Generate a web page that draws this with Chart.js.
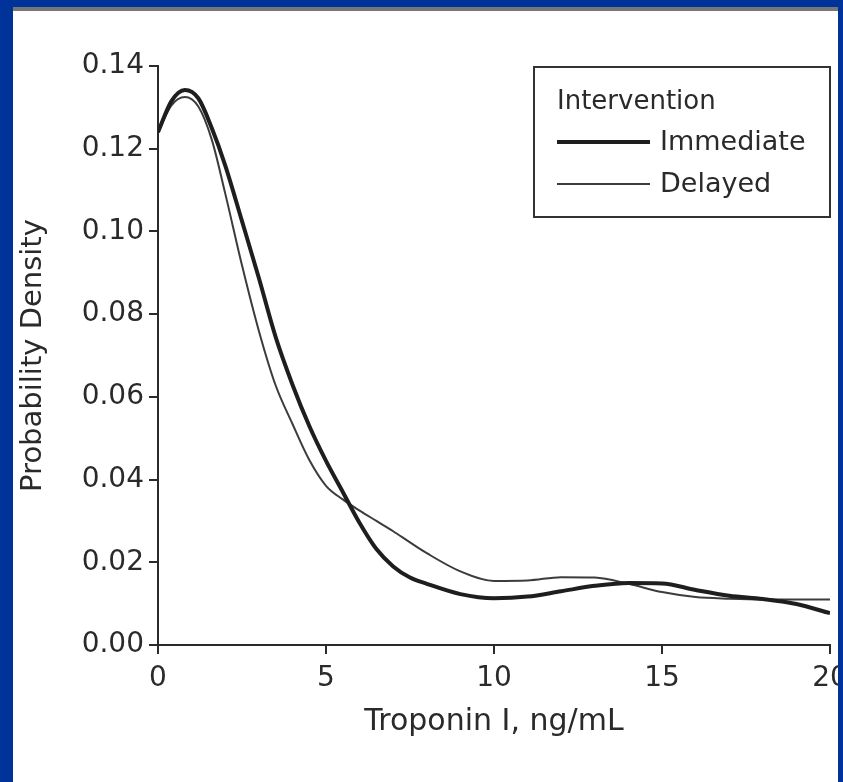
<!DOCTYPE html>
<html>
<head>
<meta charset="utf-8">
<title>Troponin I - Probability Density</title>
<script src="https://cdn.jsdelivr.net/npm/chart.js@4.4.0/dist/chart.umd.min.js"></script>
<style>
    html, body { margin: 0; padding: 0; }
    body { width: 843px; height: 782px; background: #003399; position: relative; overflow: hidden; }
    .panel { position: absolute; left: 13px; top: 7px; width: 825px; height: 775px; background: #fff; border-top: 4px solid #777; box-sizing: border-box; }
    .edge { position: absolute; left: 838px; top: 40px; width: 5px; height: 742px; background: #003399; }
    #chartWrap { position: absolute; left: 0; top: 0; width: 843px; height: 782px; }
</style>
</head>
<body>
<div class="panel"></div>
<div id="chartWrap"><canvas id="densityChart" width="843" height="782"></canvas></div>
<div class="edge"></div>

<script>
// Troponin I grid (ng/mL) and estimated densities
const troponin = [0, 0.4, 0.8, 1.2, 1.6, 2, 2.5, 3, 3.5, 4, 4.5, 5, 5.5, 6, 6.5, 7, 7.5, 8, 9, 10, 11, 12, 13, 14, 15, 16, 17, 18, 19, 20];
const immediate = [0.124, 0.1315, 0.1342, 0.1322, 0.1250, 0.1160, 0.1025, 0.0888, 0.0745, 0.0630, 0.0530, 0.0445, 0.0370, 0.0295, 0.0232, 0.0190, 0.0163, 0.0148, 0.0123, 0.0113, 0.0117, 0.0130, 0.0143, 0.0150, 0.0149, 0.0133, 0.0119, 0.0111, 0.0099, 0.0077];
const delayed = [0.124, 0.1305, 0.1325, 0.1302, 0.1222, 0.1092, 0.0918, 0.0760, 0.0628, 0.0535, 0.0448, 0.0385, 0.0352, 0.0325, 0.0300, 0.0275, 0.0248, 0.0222, 0.0178, 0.0155, 0.0156, 0.0164, 0.0163, 0.0148, 0.0128, 0.0116, 0.0112, 0.0110, 0.0110, 0.0110];

const seriesLabels = ['Immediate', 'Delayed'];
const legendTitle = 'Intervention';
const xTicks = [0, 5, 10, 15, 20];
const yTicks = [0, 0.02, 0.04, 0.06, 0.08, 0.10, 0.12, 0.14];

const FONT = '"DejaVu Sans", "Liberation Sans", sans-serif';
const INK = '#2a2a2a';

function toPoints(values) {
    return troponin.map((x, i) => ({ x: x, y: values[i] }));
}

// boxed legend in the top right corner of the plot
const boxedLegend = {
    id: 'boxedLegend',
    afterDraw(chart) {
        const ctx = chart.ctx;
        const area = chart.chartArea;
        const w = 296, h = 150;
        const left = area.right - w;
        const top = area.top;

        ctx.save();
        ctx.strokeStyle = '#333';
        ctx.lineWidth = 2;
        ctx.strokeRect(left, top + 1, w, h);

        ctx.fillStyle = INK;
        ctx.font = '26px ' + FONT;
        ctx.textBaseline = 'middle';
        ctx.textAlign = 'left';
        ctx.fillText(legendTitle, left + 23, top + 36);

        ctx.font = '27px ' + FONT;
        chart.data.datasets.forEach((ds, i) => {
            const y = top + 76 + i * 42;
            ctx.beginPath();
            ctx.strokeStyle = ds.borderColor;
            ctx.lineWidth = ds.borderWidth;
            ctx.moveTo(left + 23, y);
            ctx.lineTo(left + 116, y);
            ctx.stroke();
            ctx.fillText(ds.label, left + 126, y + 1);
        });
        ctx.restore();
    }
};

document.addEventListener('DOMContentLoaded', function() {
    const ctx = document.getElementById('densityChart').getContext('2d');
    new Chart(ctx, {
        type: 'line',
        data: {
            datasets: [{
                label: seriesLabels[0],
                data: toPoints(immediate),
                borderColor: '#1e1e1e',
                borderWidth: 4,
                pointRadius: 0,
                cubicInterpolationMode: 'monotone',
                fill: false
            }, {
                label: seriesLabels[1],
                data: toPoints(delayed),
                borderColor: '#3c3c3c',
                borderWidth: 2,
                pointRadius: 0,
                cubicInterpolationMode: 'monotone',
                fill: false
            }]
        },
        options: {
            responsive: false,
            animation: false,
            layout: { padding: { left: 13, right: 13, top: 66, bottom: 0 } },
            plugins: {
                legend: { display: false },
                tooltip: { enabled: false }
            },
            scales: {
                x: {
                    type: 'linear',
                    min: 0,
                    max: 20,
                    afterBuildTicks: function(scale) {
                        scale.ticks = xTicks.map(v => ({ value: v }));
                    },
                    afterFit: function(scale) {
                        scale.height = 137;
                        scale.paddingLeft = 0;
                        scale.paddingRight = 0;
                    },
                    grid: { drawOnChartArea: false, color: INK, lineWidth: 2, tickLength: 9 },
                    border: { display: true, color: INK, width: 2 },
                    ticks: { color: INK, padding: 8, font: { family: FONT, size: 28 } },
                    title: {
                        display: true,
                        text: 'Troponin I, ng/mL',
                        color: INK,
                        font: { family: FONT, size: 30 },
                        padding: { top: 0, bottom: 42 }
                    }
                },
                y: {
                    min: 0,
                    max: 0.14,
                    afterBuildTicks: function(scale) {
                        scale.ticks = yTicks.map(v => ({ value: v }));
                    },
                    afterFit: function(scale) {
                        scale.width = 145;
                    },
                    grid: { drawOnChartArea: false, color: INK, lineWidth: 2, tickLength: 9 },
                    border: { display: true, color: INK, width: 2 },
                    ticks: {
                        color: INK,
                        padding: 5,
                        font: { family: FONT, size: 28 },
                        callback: function(value) {
                            return value.toFixed(2);
                        }
                    },
                    title: {
                        display: true,
                        text: 'Probability Density',
                        color: INK,
                        font: { family: FONT, size: 29 },
                        padding: { top: 3, bottom: 0 }
                    }
                }
            }
        },
        plugins: [boxedLegend]
    });
});
</script>
</body>
</html>
